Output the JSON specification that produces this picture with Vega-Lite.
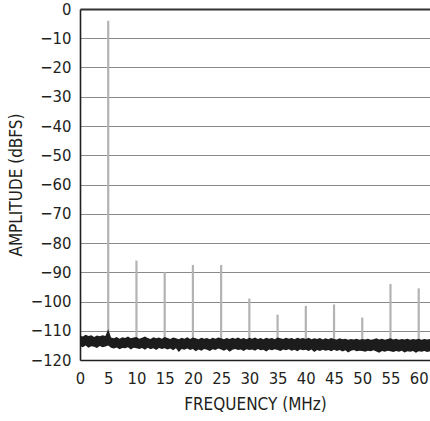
{
  "$schema": "https://vega.github.io/schema/vega-lite/v6.json",
  "width": 350,
  "height": 351,
  "autosize": {"type": "none"},
  "padding": {"left": 80, "top": 9, "right": 0, "bottom": 61},
  "background": "white",
  "config": {
    "view": {"stroke": null},
    "axis": {
      "labelFont": "DejaVu Sans Condensed, Liberation Sans Narrow, Roboto, sans-serif",
      "titleFont": "DejaVu Sans Condensed, Liberation Sans Narrow, Roboto, sans-serif",
      "labelFontSize": 16.5,
      "titleFontSize": 17,
      "labelColor": "#231f20",
      "titleColor": "#231f20",
      "titleFontWeight": "normal",
      "labelFlush": false,
      "labelBound": false,
      "ticks": false,
      "domainColor": "#231f20",
      "domainWidth": 1.6
    }
  },
  "datasets": {
    "noise": [
      {"f":0,"top":-111.6,"bot":-115.2},{"f":0.5,"top":-112.0,"bot":-115.6},{"f":1,"top":-111.4,"bot":-115.0},{"f":1.5,"top":-111.8,"bot":-115.8},
      {"f":2,"top":-111.5,"bot":-115.3},{"f":2.5,"top":-112.1,"bot":-115.5},{"f":3,"top":-111.6,"bot":-115.9},{"f":3.5,"top":-111.9,"bot":-115.2},
      {"f":4,"top":-111.5,"bot":-115.6},{"f":4.5,"top":-111.8,"bot":-115.4},{"f":5,"top":-109.5,"bot":-115.0},{"f":5.5,"top":-112.3,"bot":-115.8},
      {"f":6,"top":-112.6,"bot":-116.1},{"f":6.5,"top":-112.1,"bot":-115.7},{"f":7,"top":-112.7,"bot":-116.3},{"f":7.5,"top":-112.2,"bot":-115.9},
      {"f":8,"top":-112.5,"bot":-116.0},{"f":8.5,"top":-112.0,"bot":-115.6},{"f":9,"top":-112.6,"bot":-116.4},{"f":9.5,"top":-112.3,"bot":-115.8},
      {"f":10,"top":-112.1,"bot":-116.0},{"f":10.5,"top":-112.7,"bot":-116.2},{"f":11,"top":-112.4,"bot":-115.9},{"f":11.5,"top":-112.0,"bot":-116.5},
      {"f":12,"top":-112.5,"bot":-115.8},{"f":12.5,"top":-112.8,"bot":-116.3},{"f":13,"top":-112.2,"bot":-116.0},{"f":13.5,"top":-112.6,"bot":-116.6},
      {"f":14,"top":-112.3,"bot":-115.9},{"f":14.5,"top":-112.7,"bot":-116.2},{"f":15,"top":-112.1,"bot":-116.0},{"f":15.5,"top":-112.5,"bot":-116.4},
      {"f":16,"top":-112.8,"bot":-116.1},{"f":16.5,"top":-112.3,"bot":-116.7},{"f":17,"top":-112.6,"bot":-116.0},{"f":17.5,"top":-112.9,"bot":-117.3},
      {"f":18,"top":-112.4,"bot":-116.2},{"f":18.5,"top":-112.7,"bot":-116.5},{"f":19,"top":-112.2,"bot":-116.1},{"f":19.5,"top":-112.8,"bot":-116.6},
      {"f":20,"top":-112.3,"bot":-116.2},{"f":20.5,"top":-112.6,"bot":-117.0},{"f":21,"top":-112.9,"bot":-116.4},{"f":21.5,"top":-112.4,"bot":-116.8},
      {"f":22,"top":-112.7,"bot":-116.2},{"f":22.5,"top":-112.5,"bot":-116.5},{"f":23,"top":-112.9,"bot":-116.9},{"f":23.5,"top":-112.4,"bot":-116.3},
      {"f":24,"top":-112.7,"bot":-116.6},{"f":24.5,"top":-112.3,"bot":-116.1},{"f":25,"top":-112.6,"bot":-116.4},{"f":25.5,"top":-112.9,"bot":-116.8},
      {"f":26,"top":-112.5,"bot":-116.3},{"f":26.5,"top":-112.8,"bot":-117.2},{"f":27,"top":-112.4,"bot":-116.5},{"f":27.5,"top":-112.7,"bot":-116.2},
      {"f":28,"top":-112.3,"bot":-116.6},{"f":28.5,"top":-112.8,"bot":-116.4},{"f":29,"top":-112.5,"bot":-116.9},{"f":29.5,"top":-112.9,"bot":-116.3},
      {"f":30,"top":-112.4,"bot":-116.6},{"f":30.5,"top":-112.7,"bot":-116.4},{"f":31,"top":-112.3,"bot":-116.8},{"f":31.5,"top":-112.8,"bot":-116.2},
      {"f":32,"top":-112.5,"bot":-116.7},{"f":32.5,"top":-112.9,"bot":-116.5},{"f":33,"top":-112.4,"bot":-117.1},{"f":33.5,"top":-112.7,"bot":-116.4},
      {"f":34,"top":-112.5,"bot":-116.7},{"f":34.5,"top":-112.9,"bot":-116.3},{"f":35,"top":-112.3,"bot":-116.6},{"f":35.5,"top":-112.6,"bot":-116.9},
      {"f":36,"top":-112.8,"bot":-116.4},{"f":36.5,"top":-112.4,"bot":-116.7},{"f":37,"top":-112.7,"bot":-116.3},{"f":37.5,"top":-112.5,"bot":-116.8},
      {"f":38,"top":-112.9,"bot":-116.5},{"f":38.5,"top":-112.4,"bot":-117.0},{"f":39,"top":-112.7,"bot":-116.4},{"f":39.5,"top":-112.5,"bot":-116.7},
      {"f":40,"top":-112.8,"bot":-116.5},{"f":40.5,"top":-112.4,"bot":-116.9},{"f":41,"top":-112.9,"bot":-116.4},{"f":41.5,"top":-112.6,"bot":-117.3},
      {"f":42,"top":-112.8,"bot":-116.6},{"f":42.5,"top":-112.5,"bot":-116.9},{"f":43,"top":-113.0,"bot":-116.5},{"f":43.5,"top":-112.6,"bot":-116.8},
      {"f":44,"top":-112.9,"bot":-116.6},{"f":44.5,"top":-112.5,"bot":-117.0},{"f":45,"top":-112.8,"bot":-116.5},{"f":45.5,"top":-113.0,"bot":-116.9},
      {"f":46,"top":-112.6,"bot":-116.6},{"f":46.5,"top":-112.9,"bot":-117.1},{"f":47,"top":-112.7,"bot":-116.7},{"f":47.5,"top":-113.1,"bot":-117.4},
      {"f":48,"top":-112.8,"bot":-116.8},{"f":48.5,"top":-113.0,"bot":-116.6},{"f":49,"top":-112.7,"bot":-117.0},{"f":49.5,"top":-113.1,"bot":-116.8},
      {"f":50,"top":-112.8,"bot":-116.9},{"f":50.5,"top":-113.0,"bot":-117.2},{"f":51,"top":-112.7,"bot":-116.8},{"f":51.5,"top":-113.1,"bot":-117.0},
      {"f":52,"top":-112.9,"bot":-116.7},{"f":52.5,"top":-112.6,"bot":-117.1},{"f":53,"top":-113.0,"bot":-117.5},{"f":53.5,"top":-112.7,"bot":-116.9},
      {"f":54,"top":-113.1,"bot":-117.2},{"f":54.5,"top":-112.8,"bot":-116.8},{"f":55,"top":-112.6,"bot":-117.0},{"f":55.5,"top":-113.0,"bot":-117.3},
      {"f":56,"top":-112.7,"bot":-116.9},{"f":56.5,"top":-113.1,"bot":-117.2},{"f":57,"top":-112.8,"bot":-116.8},{"f":57.5,"top":-113.0,"bot":-117.4},
      {"f":58,"top":-112.7,"bot":-117.0},{"f":58.5,"top":-113.1,"bot":-117.2},{"f":59,"top":-112.8,"bot":-116.9},{"f":59.5,"top":-113.0,"bot":-117.5},
      {"f":60,"top":-112.7,"bot":-117.0},{"f":60.5,"top":-113.1,"bot":-117.2},{"f":61,"top":-112.8,"bot":-116.9},{"f":61.5,"top":-113.0,"bot":-117.3},
      {"f":62,"top":-112.8,"bot":-117.0}
    ],
    "spikes": [
      {"f":5,"top":-4,"bot":-113},{"f":10,"top":-86,"bot":-113},{"f":15,"top":-90,"bot":-113},
      {"f":20,"top":-87.5,"bot":-113},{"f":25,"top":-87.5,"bot":-113},{"f":30,"top":-99,"bot":-113},
      {"f":35,"top":-104.5,"bot":-113},{"f":40,"top":-101.5,"bot":-113},{"f":45,"top":-101,"bot":-113},
      {"f":50,"top":-105.5,"bot":-113},{"f":55,"top":-94,"bot":-113},{"f":60,"top":-95.5,"bot":-113}
    ]
  },
  "encoding": {
    "x": {
      "field": "f", "type": "quantitative",
      "scale": {"domain": [0, 62], "nice": false},
      "axis": {
        "title": "FREQUENCY (MHz)",
        "values": [0,5,10,15,20,25,30,35,40,45,50,55,60],
        "grid": false,
        "labelOverlap": false,
        "labelPadding": 10,
        "titlePadding": 10
      }
    },
    "y": {
      "field": "top", "type": "quantitative",
      "scale": {"domain": [-120, 0], "nice": false},
      "axis": {
        "title": "AMPLITUDE (dBFS)",
        "values": [0,-10,-20,-30,-40,-50,-60,-70,-80,-90,-100,-110,-120],
        "grid": true,
        "labelOverlap": false,
        "gridColor": {"condition": {"test": "datum.value === 0", "value": "#333333"}, "value": "#8a8a8a"},
        "gridWidth": {"condition": {"test": "datum.value === 0", "value": 2}, "value": 1.2},
        "labelPadding": 9,
        "titlePadding": 5
      }
    },
    "y2": {"field": "bot"}
  },
  "layer": [
    {
      "data": {"name": "spikes"},
      "mark": {"type": "rule", "color": "#b3b3b3", "strokeWidth": 2.2}
    },
    {
      "data": {"name": "noise"},
      "mark": {"type": "area", "color": "#1c1c1c", "opacity": 1}
    }
  ]
}
